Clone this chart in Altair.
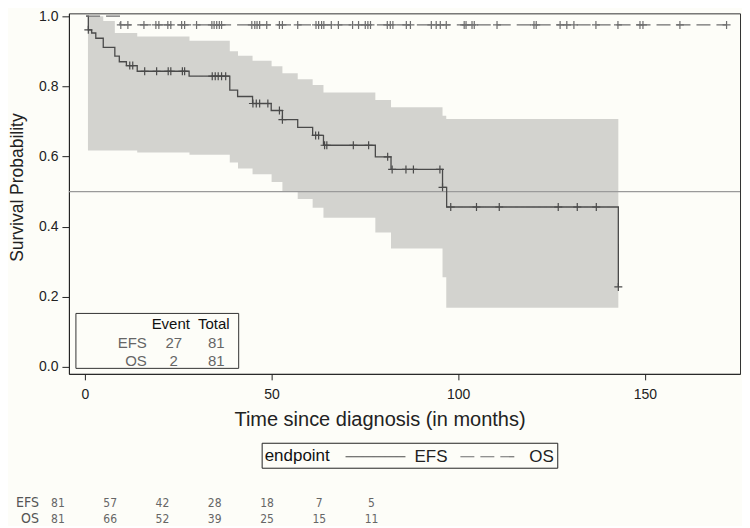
import altair as alt
import pandas as pd

# ---------------- data ----------------
endpoints = ["EFS", "OS"]

# Kaplan-Meier step points (time in months, survival after the step)
efs_time = [0.3, 0.9, 1.8, 2.9, 4.9, 8.0, 9.2, 11.1, 14.0, 27.9, 38.8, 40.9, 44.9,
            49.9, 52.9, 57.0, 61.0, 63.9, 77.8, 82.0, 95.8, 96.9, 142.9]
efs_surv = [1.0, 0.961, 0.952, 0.937, 0.911, 0.886, 0.870, 0.859, 0.843, 0.829, 0.789,
            0.771, 0.751, 0.731, 0.705, 0.683, 0.660, 0.632, 0.599, 0.563, 0.512, 0.456, 0.228]
os_time = [0.3, 9.4, 171.9]
os_surv = [1.0, 0.975, 0.975]

# censoring times
efs_cens_time = [0.9, 12.0, 12.8, 16.0, 19.2, 22.3, 23.0, 26.1, 26.7, 34.1, 34.9, 35.7,
                 36.6, 37.7, 45.0, 45.9, 46.8, 49.0, 52.1, 52.9, 61.8, 62.6, 64.2, 64.8,
                 71.9, 76.0, 81.1, 82.3, 86.0, 88.0, 95.1, 95.8, 98.0, 104.9, 111.0,
                 126.8, 131.9, 137.0, 142.9]
os_cens_time = [9.6, 11.5, 15.8, 19.0, 19.8, 22.2, 23.0, 25.9, 26.7, 29.9, 34.0, 34.6,
                35.3, 36.0, 36.6, 44.7, 45.5, 46.1, 46.8, 48.7, 52.1, 52.9, 57.0, 61.9,
                62.6, 63.4, 64.0, 66.0, 67.9, 71.7, 73.3, 75.1, 75.8, 76.5, 81.0, 81.8,
                82.5, 86.1, 87.2, 92.8, 94.1, 95.2, 96.8, 101.6, 102.1, 103.7, 104.3,
                110.4, 120.3, 120.9, 127.3, 129.1, 131.0, 136.9, 142.8, 148.7, 149.5,
                159.4, 171.9]

# EFS confidence band
band_time = [0.8, 4.9, 8.0, 14.0, 28.0, 38.8, 41.0, 44.9, 50.0, 52.9, 57.0, 61.0,
             63.9, 77.8, 82.0, 95.8, 96.8, 142.9]
band_lower = [0.617, 0.617, 0.617, 0.611, 0.605, 0.583, 0.566, 0.549, 0.527, 0.501,
              0.479, 0.454, 0.425, 0.383, 0.338, 0.256, 0.169, 0.169]
band_upper = [1.0, 0.986, 0.952, 0.942, 0.930, 0.900, 0.887, 0.873, 0.857, 0.837,
              0.820, 0.804, 0.782, 0.761, 0.740, 0.716, 0.707, 0.707]

ref_level = [0.5]

# inset table
inset_header = ["Event", "Total"]
inset_rows = ["EFS", "OS"]
inset_events = [27, 2]
inset_totals = [81, 81]

# numbers at risk
risk_times = [0, 20, 40, 60, 80, 100, 120]
efs_risk = [81, 57, 42, 28, 18, 7, 5]
os_risk = [81, 66, 52, 39, 25, 15, 11]

x_ticks = [0, 50, 100, 150]
y_ticks = [0.0, 0.2, 0.4, 0.6, 0.8, 1.0]


# ---------------- tables ----------------
def step_value(times, survs, t):
    v = survs[0]
    for tt, ss in zip(times, survs):
        if tt <= t:
            v = ss
    return v


curve_df = pd.concat([
    pd.DataFrame({"t": efs_time, "s": efs_surv, "endpoint": "EFS"}),
    pd.DataFrame({"t": os_time, "s": os_surv, "endpoint": "OS"}),
])
cens_df = pd.concat([
    pd.DataFrame({"t": efs_cens_time,
                  "s": [step_value(efs_time, efs_surv, t) for t in efs_cens_time],
                  "endpoint": "EFS"}),
    pd.DataFrame({"t": os_cens_time,
                  "s": [step_value(os_time, os_surv, t) for t in os_cens_time],
                  "endpoint": "OS"}),
])
band_df = pd.DataFrame({"t": band_time, "lower": band_lower, "upper": band_upper})
ref_df = pd.DataFrame({"level": ref_level})
inset_df = pd.DataFrame({"row": inset_rows, "events": inset_events, "totals": inset_totals})
head_df = pd.DataFrame({"h": inset_header})
risk_df = pd.concat([
    pd.DataFrame({"time": risk_times, "n": efs_risk, "endpoint": "EFS"}),
    pd.DataFrame({"time": risk_times, "n": os_risk, "endpoint": "OS"}),
])
lab_df = pd.DataFrame({"endpoint": endpoints})

# ---------------- styling ----------------
W, H = 672, 361
BG = "#fdfdf8"
INK = "#222222"
FONT = "Liberation Sans"
NARROW = "Liberation Sans Narrow, DejaVu Sans Condensed, Liberation Sans"

xs = alt.Scale(domain=[-4.3, 175.5], nice=False, zero=False)
ys = alt.Scale(domain=[-0.0197, 1.008], nice=False, zero=False)
col_scale = alt.Scale(domain=endpoints, range=["#4a4a4a", "#6e6e6e"])
dash_scale = alt.Scale(domain=endpoints, range=[[1, 0], [14, 6]])

y_axis = alt.Axis(title="Survival Probability", values=y_ticks, format=".1f",
                  tickSize=7, labelPadding=4, labelFontSize=14, titleFontSize=17.5,
                  titlePadding=12, titleY=174, titleAlign="center", grid=False)

# long horizontal stroke symbol (path wider than the symbol slot, so paddings add the overhang)
leg = alt.Legend(title="endpoint", orient="none", legendX=193, legendY=430,
                 direction="horizontal", titleOrient="left",
                 symbolType="M-3,0L3,0", symbolSize=400, symbolStrokeWidth=1.2,
                 strokeColor=INK, padding=3,
                 labelFontSize=17, titleFontSize=17, titleFontWeight="normal",
                 titleColor="#111111", labelColor=INK, titlePadding=34,
                 columnPadding=9, labelOffset=28, titleFont=FONT, labelFont=FONT)

band = alt.Chart(band_df).mark_area(interpolate="step-after", color="#d3d3cf", opacity=1).encode(
    x=alt.X("t:Q", scale=xs, axis=alt.Axis(
        title="Time since diagnosis (in months)", values=x_ticks, format="d",
        tickSize=6, labelPadding=8, labelFontSize=14, titleFontSize=20,
        titlePadding=8, titleX=311, titleAlign="center", grid=False)),
    y=alt.Y("lower:Q", scale=ys, axis=y_axis),
    y2="upper:Q",
)

ref = alt.Chart(ref_df).mark_rule(color="#9a9a9a", strokeWidth=1.2).encode(
    y=alt.Y("level:Q", scale=ys, axis=y_axis))

lines = alt.Chart(curve_df).mark_line(interpolate="step-after", strokeWidth=1.3).encode(
    x=alt.X("t:Q", scale=xs, axis=None),
    y=alt.Y("s:Q", scale=ys, axis=y_axis),
    color=alt.Color("endpoint:N", scale=col_scale, legend=leg),
    strokeDash=alt.StrokeDash("endpoint:N", scale=dash_scale, legend=leg),
)

cens = alt.Chart(cens_df).mark_point(shape="M-1,0L1,0M0,-1L0,1", size=64, filled=False,
                                     strokeWidth=1.2, opacity=1).encode(
    x=alt.X("t:Q", scale=xs, axis=None),
    y=alt.Y("s:Q", scale=ys, axis=y_axis),
    color=alt.Color("endpoint:N", scale=col_scale, legend=None),
)

# inset summary table (inside the plot, lower left)
box = alt.Chart(pd.DataFrame({"k": [0]})).mark_rect(fillOpacity=0, stroke="#333333", strokeWidth=1).encode(
    x=alt.value(7), x2=alt.value(170), y=alt.value(300.5), y2=alt.value(355.5))

head_event = alt.Chart(head_df).transform_filter(alt.datum.h == "Event").mark_text(
    fontSize=15, color="#111111", align="center", baseline="middle", font=FONT).encode(
    text="h:N", x=alt.value(102), y=alt.value(311))
head_total = alt.Chart(head_df).transform_filter(alt.datum.h == "Total").mark_text(
    fontSize=15, color="#111111", align="center", baseline="middle", font=FONT).encode(
    text="h:N", x=alt.value(145), y=alt.value(311))

inset_layers = []
for name, yy in zip(inset_rows, [330, 348]):
    base = alt.Chart(inset_df).transform_filter(alt.datum.row == name)
    inset_layers.append(base.mark_text(fontSize=15, color="#666666", align="right",
                                       baseline="middle", font=FONT).encode(
        text="row:N", x=alt.value(78), y=alt.value(yy)))
    inset_layers.append(base.mark_text(fontSize=15, color="#666666", align="center",
                                       baseline="middle", font=FONT).encode(
        text="events:Q", x=alt.value(105), y=alt.value(yy)))
    inset_layers.append(base.mark_text(fontSize=15, color="#666666", align="right",
                                       baseline="middle", font=FONT).encode(
        text="totals:Q", x=alt.value(156), y=alt.value(yy)))

# numbers-at-risk table below the legend (own x scale)
risk_scale = alt.Scale(domain=[0, 120], range=[-11, 303], nice=False, zero=False)
risk_layers = []
for name, yy in zip(endpoints, [490.5, 506]):
    risk_layers.append(
        alt.Chart(risk_df).transform_filter(alt.datum.endpoint == name).mark_text(
            fontSize=12, color="#666666", align="center", baseline="middle", font=NARROW).encode(
            x=alt.X("time:Q", scale=risk_scale, axis=None),
            text="n:Q", y=alt.value(yy)))
    risk_layers.append(
        alt.Chart(lab_df).transform_filter(alt.datum.endpoint == name).mark_text(
            fontSize=14, color="#555555", align="right", baseline="middle", font=NARROW).encode(
            text="endpoint:N", x=alt.value(-30), y=alt.value(yy)))

chart = alt.layer(band, ref, lines, cens, box, head_event, head_total,
                  *inset_layers, *risk_layers).resolve_scale(x="independent").properties(
    width=W, height=H,
    padding={"left": 0, "top": 0, "right": 1, "bottom": 0},
    background=BG,
).configure(font=FONT).configure_view(
    stroke="#333333", strokeWidth=1
).configure_axis(
    domainColor=INK, tickColor=INK, labelColor=INK, titleColor=INK,
    titleFontWeight="normal", labelFont=FONT, titleFont=FONT, grid=False
)

chart.save("out.html", embed_options={"renderer": "svg", "actions": False})
